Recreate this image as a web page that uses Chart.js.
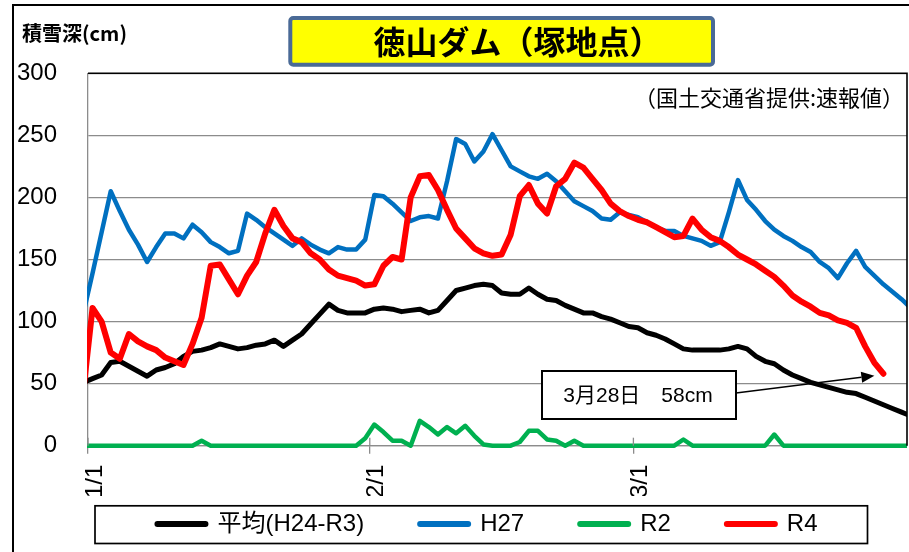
<!DOCTYPE html>
<html><head><meta charset="utf-8">
<script src="https://cdn.jsdelivr.net/npm/chart.js@4/dist/chart.umd.min.js"></script>
<style>html,body{margin:0;padding:0;background:#fff;}</style>
</head><body>
<canvas id="c" width="909" height="552"></canvas>
<script>
// ---- categories: 12/31 (edge) then Jan 1 .. Mar 31 (Feb with 29 days) ----
const dates = ['12/31'];
[[1, 31], [2, 29], [3, 31]].forEach(([m, n]) => { for (let d = 1; d <= n; d++) dates.push(m + '/' + d); });

// tick labels on the date axis
const tickLabels = ['1/1', '2/1', '3/1'];

// series names
const seriesNames = ['平均(H24-R3)', 'H27', 'R2', 'R4'];

// snow depth (cm), one value per entry of `dates`
const avg = [
  51, 54, 57, 67, 68, 64, 60, 56, 61, 63,
  66, 72, 76, 77, 79, 82, 80, 78, 79, 81,
  82, 85, 80, 85, 90, 98, 106, 114, 109, 107,
  107, 107, 110, 111, 110, 108, 109, 110, 107, 109,
  117, 125, 127, 129, 130, 129, 123, 122, 122, 127,
  122, 118, 117, 113, 110, 107, 107, 104, 102, 99,
  96, 95, 91, 89, 86, 82, 78, 77, 77, 77,
  77, 78, 80, 78, 72, 68, 66, 61, 57, 54,
  51, 49, 47, 45, 43, 42, 39, 36, 33, 30,
  27, 24
];
const h27 = [
  107, 139, 172, 205, 189, 174, 162, 148, 160, 171,
  171, 167, 178, 172, 164, 160, 155, 157, 187, 182,
  176, 171, 166, 161, 167, 162, 158, 155, 160, 158,
  158, 166, 202, 201, 195, 188, 181, 184, 185, 183,
  213, 247, 243, 229, 237, 251, 238, 225, 221, 217,
  215, 219, 213, 205, 197, 193, 189, 183, 182, 188,
  186, 184, 180, 176, 173, 173, 169, 167, 165, 161,
  164, 188, 214, 198, 190, 181, 174, 169, 165, 160,
  156, 148, 143, 135, 147, 157, 144, 137, 130, 124,
  118, 111
];
const r2 = [
  0, 0, 0, 0, 0, 0, 0, 0, 0, 0,
  0, 0, 0, 4, 0, 0, 0, 0, 0, 0,
  0, 0, 0, 0, 0, 0, 0, 0, 0, 0,
  0, 6, 17, 11, 4, 4, 0, 20, 15, 9,
  15, 10, 16, 8, 1, 0, 0, 0, 3, 12,
  12, 5, 4, 0, 4, 0, 0, 0, 0, 0,
  0, 0, 0, 0, 0, 0, 5, 0, 0, 0,
  0, 0, 0, 0, 0, 0, 9, 0, 0, 0,
  0, 0, 0, 0, 0, 0, 0, 0, 0, 0,
  0, 0
];
const r4 = [
  45, 111, 100, 75, 70, 90, 84, 80, 77, 71,
  68, 65, 82, 103, 145, 146, 134, 122, 137, 148,
  171, 190, 177, 167, 164, 155, 150, 142, 137, 135,
  133, 129, 130, 145, 152, 150, 200, 217, 218, 206,
  190, 175, 167, 159, 155, 153, 154, 170, 201, 210,
  195, 187, 209, 215, 228, 224, 215, 206, 195, 189,
  185, 182, 180, 176, 172, 168, 169, 183, 174, 168,
  165, 160, 154, 150, 146, 141, 136, 129, 121, 116,
  112, 107, 105, 101, 99, 95, 80, 67, 58, null,
  null, null
];

// each day is centred in its slot; slot of 1/1 starts at 0
const toXY = arr => arr.map((v, i) => ({ x: i - 0.5, y: v }));
const tickValues = tickLabels.map(l => dates.indexOf(l) - 1);

const CJK = "'Noto Sans CJK JP'";
const LAT = "'Liberation Sans', 'Noto Sans CJK JP'";
const GRID = '#8c8c8c';
const LEG_PAD = 56, LEG_FONT = 24;

const decor = {
  id: 'decor',
  afterLayout(chart) {
    // legend row: centred under the plot like the original, spacing kept by LEG_PAD
    const lg = chart.legend;
    const mid = (lg.top + lg.bottom) / 2;
    lg.top = mid - LEG_PAD - LEG_FONT / 2;
    lg.left = 68;
    // title sits slightly right of the plot centre in the original
    const tb = chart.titleBlock;
    tb.left += 20; tb.right += 20;
  },
  beforeDraw(chart) {
    const ctx = chart.ctx;
    ctx.save();
    ctx.fillStyle = '#fff';
    ctx.fillRect(0, 0, chart.width, chart.height);
    ctx.strokeStyle = '#000'; ctx.lineWidth = 2;
    ctx.beginPath(); ctx.moveTo(13, chart.height + 3); ctx.lineTo(13, 5); ctx.lineTo(chart.width + 3, 5); ctx.stroke();
    // title box
    ctx.fillStyle = '#FFFF00'; ctx.strokeStyle = '#4A6A96'; ctx.lineWidth = 4;
    ctx.beginPath(); ctx.roundRect(290.3, 18, 422.7, 46.7, 3); ctx.fill(); ctx.stroke();
    ctx.restore();
  },
  afterDraw(chart) {
    const ctx = chart.ctx, a = chart.chartArea, xs = chart.scales.x, ys = chart.scales.y;
    ctx.save();
    // plot border top / right
    ctx.strokeStyle = '#000'; ctx.lineWidth = 1.6;
    ctx.beginPath(); ctx.moveTo(a.left, a.top); ctx.lineTo(a.right, a.top); ctx.lineTo(a.right, a.bottom); ctx.stroke();
    // upper half of crossing tick marks
    ctx.strokeStyle = GRID; ctx.lineWidth = 1.3;
    tickValues.forEach(v => {
      const px = xs.getPixelForValue(v);
      ctx.beginPath(); ctx.moveTo(px, a.bottom - 8); ctx.lineTo(px, a.bottom); ctx.stroke();
    });
    // legend frame
    ctx.strokeStyle = '#000'; ctx.lineWidth = 1.7;
    ctx.strokeRect(95, 505.8, 772.5, 37.7);
    // axis title & source note
    ctx.fillStyle = '#000'; ctx.textBaseline = 'middle';
    ctx.font = "bold 20px " + CJK; ctx.textAlign = 'left';
    ctx.fillText('積雪深(cm)', 22, 33);
    ctx.font = "22px " + CJK; ctx.textAlign = 'right';
    ctx.fillText('（国土交通省提供:速報値）', 904, 98);
    // annotation for last R4 value
    let last = r4.length - 1; while (r4[last] === null) last--;
    const [mm, dd] = dates[last].split('/');
    const ex = xs.getPixelForValue(last - 0.5), ey = ys.getPixelForValue(r4[last]);
    const tipX = ex - 9, tipY = ey + 2, sx = 736, sy = 393;
    const ang = Math.atan2(tipY - sy, tipX - sx), L = 13, W = 5.5;
    const bx = tipX - L * Math.cos(ang), by = tipY - L * Math.sin(ang);
    ctx.strokeStyle = '#000'; ctx.lineWidth = 1.5;
    ctx.beginPath(); ctx.moveTo(sx, sy); ctx.lineTo(bx, by); ctx.stroke();
    ctx.fillStyle = '#000';
    ctx.beginPath(); ctx.moveTo(tipX, tipY);
    ctx.lineTo(bx + W * Math.sin(ang), by - W * Math.cos(ang));
    ctx.lineTo(bx - W * Math.sin(ang), by + W * Math.cos(ang));
    ctx.closePath(); ctx.fill();
    ctx.fillStyle = '#fff'; ctx.fillRect(542, 371, 194, 48);
    ctx.strokeStyle = '#000'; ctx.lineWidth = 2; ctx.strokeRect(542, 371, 194, 48);
    ctx.fillStyle = '#000'; ctx.font = "21px " + LAT; ctx.textAlign = 'center';
    ctx.fillText(mm + '月' + dd + '日　' + r4[last] + 'cm', 638, 396);
    ctx.restore();
  }
};

const mk = (label, arr, color, width, order) => ({
  label, data: toXY(arr), borderColor: color, backgroundColor: color,
  borderWidth: width, pointRadius: 0, pointHoverRadius: 0, tension: 0,
  borderCapStyle: 'round', borderJoinStyle: 'round', spanGaps: false, order,
  clip: { left: 1, top: 5, right: 0, bottom: 3 }
});

new Chart(document.getElementById('c'), {
  type: 'line',
  data: {
    datasets: [
      mk(seriesNames[0], avg, '#000000', 5, 2),
      mk(seriesNames[1], h27, '#0070C0', 4.5, 1),
      mk(seriesNames[2], r2, '#00B050', 4.5, 3),
      mk(seriesNames[3], r4, '#FF0000', 6, 0)
    ]
  },
  options: {
    responsive: false, animation: false, devicePixelRatio: 1,
    events: [],
    layout: { padding: { left: 14, right: 2, top: 5, bottom: 0 } },
    plugins: {
      title: {
        display: true, text: '徳山ダム（塚地点）', fullSize: false, color: '#000',
        font: { family: CJK, size: 32, weight: 'bold' }, padding: { top: 17.8, bottom: 12.1 }
      },
      legend: {
        position: 'bottom', maxHeight: 56,
        labels: {
          usePointStyle: true, pointStyle: 'line', pointStyleWidth: 48, padding: LEG_PAD,
          color: '#000', font: { family: LAT, size: LEG_FONT },
          sort: (a, b) => a.datasetIndex - b.datasetIndex,
          generateLabels: chart => Chart.defaults.plugins.legend.labels.generateLabels(chart)
            .map(l => Object.assign(l, { lineWidth: 6, lineCap: 'round' }))
        }
      },
      tooltip: { enabled: false }
    },
    scales: {
      x: {
        type: 'linear', min: 0, max: 90.1,
        afterBuildTicks: s => { s.ticks = tickValues.map(v => ({ value: v })); },
        afterFit: s => { s.height = 50.3; },
        ticks: {
          autoSkip: false, minRotation: 90, maxRotation: 90, padding: 11, labelOffset: 7,
          color: '#000', font: { family: LAT, size: 24 },
          callback: v => tickLabels[tickValues.indexOf(v)]
        },
        grid: { drawOnChartArea: false, drawTicks: true, tickLength: 8, color: GRID, lineWidth: 1.3 },
        border: { display: true, color: GRID, width: 1.3 }
      },
      y: {
        min: 0, max: 300,
        afterFit: s => { s.width = 74; },
        ticks: { stepSize: 50, padding: 31, color: '#000', font: { family: LAT, size: 24 } },
        grid: { color: GRID, lineWidth: 1.3, drawTicks: false },
        border: { display: true, color: GRID, width: 1.3 }
      }
    }
  },
  plugins: [decor]
});
</script>
</body></html>
